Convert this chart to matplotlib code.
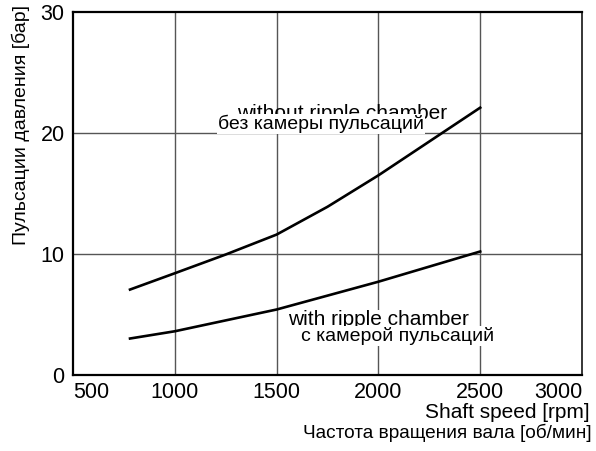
import numpy as np
import matplotlib.pyplot as plt

plt.rcParams['font.family'] = ['Liberation Sans', 'DejaVu Sans']

# shaft speed [rpm] and pressure pulsation [bar]
speed = [780, 1000, 1250, 1500, 1750, 2000, 2250, 2500]
without_chamber = [7.05, 8.4, 9.95, 11.6, 13.9, 16.5, 19.3, 22.1]
with_chamber = [3.0, 3.6, 4.5, 5.4, 6.55, 7.7, 8.95, 10.2]

xticks = [500, 1000, 1500, 2000, 2500, 3000]
yticks = [0, 10, 20, 30]

fig = plt.figure(figsize=(5.96, 4.51), dpi=100)
ax = fig.add_axes([0.1225, 0.169, 0.854, 0.804])

ax.plot(speed, without_chamber, color='black', lw=1.9, zorder=3)
ax.plot(speed, with_chamber, color='black', lw=1.9, zorder=3)

ax.set_xlim(500, 3000)
ax.set_ylim(0, 30)
ax.set_xticks(xticks)
ax.set_yticks(yticks)
ax.tick_params(length=0, labelsize=15.5)
ax.tick_params(axis='x', pad=5)
ax.tick_params(axis='y', pad=6)
xl = ax.get_xticklabels()
xl[0].set_ha('left')
xl[-1].set_ha('right')

for v in xticks[1:-1]:
    ax.axvline(v, color='#555555', lw=1.0, zorder=1)
for v in yticks[1:-1]:
    ax.axhline(v, color='#555555', lw=1.0, zorder=1)

for side in ['left', 'bottom', 'top']:
    ax.spines[side].set_linewidth(1.6)
ax.spines['right'].set_linewidth(1.1)

# curve captions, Russian line on white box over the English one
ax.text(1820, 21.2, 'without ripple chamber', fontsize=15, ha='center', va='baseline', zorder=4)
ax.text(1717, 20.3, 'без камеры пульсаций', fontsize=14, ha='center', va='baseline', zorder=5,
        bbox=dict(facecolor='white', edgecolor='none', pad=0.5))
ax.text(1998, 4.1, 'with ripple chamber', fontsize=15, ha='center', va='baseline', zorder=4,
        bbox=dict(facecolor='white', edgecolor='none', pad=0.5))
ax.text(2096, 2.8, 'с камерой пульсаций', fontsize=14, ha='center', va='baseline', zorder=5,
        bbox=dict(facecolor='white', edgecolor='none', pad=0.5))

fig.text(0.035, 0.99, 'Пульсации давления [бар]', rotation=90, fontsize=14, ha='center', va='top')
fig.text(0.99, 0.074, 'Shaft speed [rpm]', fontsize=15, ha='right', va='baseline')
fig.text(0.993, 0.0288, 'Частота вращения вала [об/мин]', fontsize=13.7, ha='right', va='baseline')

fig.savefig('out.png', dpi=100)
